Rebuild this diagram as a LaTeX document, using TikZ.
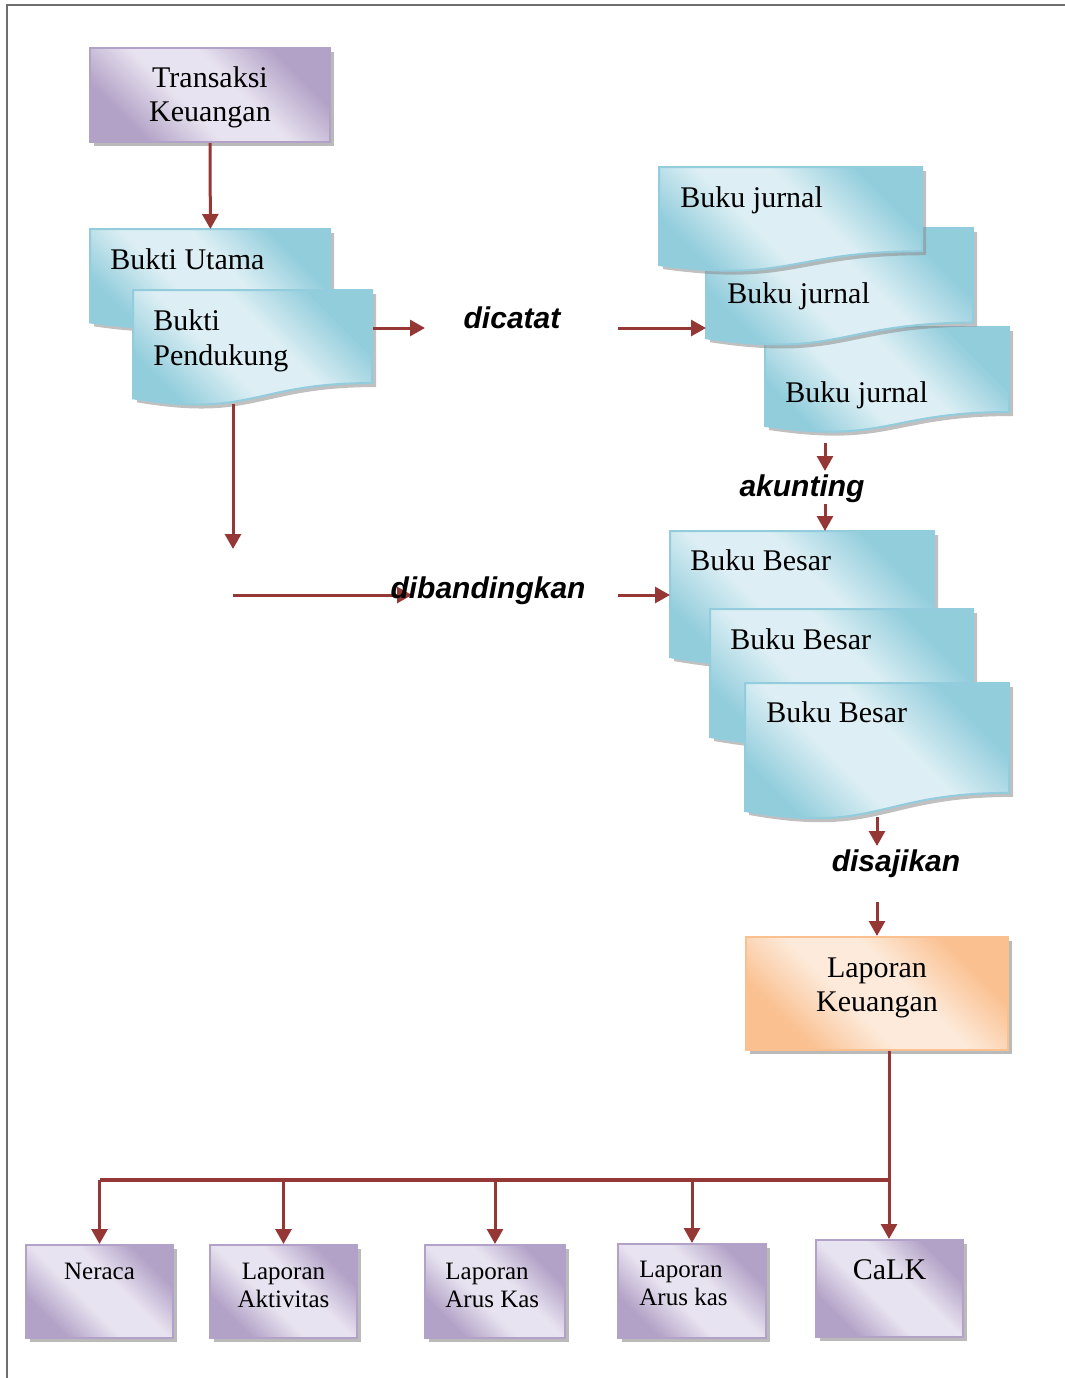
\documentclass[tikz,border=0pt]{standalone}
\usepackage{fontspec}
\setmainfont{Liberation Serif}
\setsansfont{Liberation Sans}
\usetikzlibrary{positioning,arrows.meta,shadows}

\definecolor{arrowred}{HTML}{953735}
\definecolor{pdark}{HTML}{B3A2C7}
\definecolor{plight}{HTML}{E8E3F0}
\definecolor{bdark}{HTML}{92CDDC}
\definecolor{blight}{HTML}{DDEFF4}
\definecolor{odark}{HTML}{FAC090}
\definecolor{olight}{HTML}{FDEADA}
\definecolor{bluedraw}{HTML}{93CDDD}
\definecolor{framegray}{HTML}{6E6E6E}

\pgfdeclarehorizontalshading{purpleband}{100bp}{color(0bp)=(pdark); color(27bp)=(pdark); color(43bp)=(plight); color(57bp)=(plight); color(73bp)=(pdark); color(100bp)=(pdark)}
\pgfdeclarehorizontalshading{blueband}{100bp}{color(0bp)=(bdark); color(27bp)=(bdark); color(43bp)=(blight); color(57bp)=(blight); color(73bp)=(bdark); color(100bp)=(bdark)}
\pgfdeclarehorizontalshading{orangeband}{100bp}{color(0bp)=(odark); color(27bp)=(odark); color(43bp)=(olight); color(57bp)=(olight); color(73bp)=(odark); color(100bp)=(odark)}

% document shape: x, y, width, height
\newcommand\docpath[4]{(#1,#2) -- (#1+#3,#2) -- (#1+#3,#2+0.802*#4)
  .. controls (#1+0.5*#3,#2+0.802*#4) and (#1+0.5*#3,#2+1.107*#4) .. (#1,#2+0.934*#4) -- cycle}
% name, x, y, width, height
\newcommand\dokumen[5]{%
  \fill[black!45, opacity=.55] \docpath{#2+4}{#3+4}{#4}{#5};
  \path[shade, shading=blueband, shading angle=45] \docpath{#2}{#3}{#4}{#5};
  \draw[bluedraw, line width=1pt] \docpath{#2}{#3}{#4}{#5};
  \node[inner sep=0, minimum width=#4*0.5pt, minimum height=#5*0.401pt, anchor=north west] (#1) at (#2,#3) {};
}

\begin{document}
\begin{tikzpicture}[
        x=0.5pt, y=-0.5pt,
        flow/.style={draw=arrowred, line width=1.5pt, -{Triangle[width=8pt,length=7.5pt]}},
        trunk/.style={draw=arrowred, line width=1.6pt},
        boxtext/.style={font=\fontsize{15}{17}\selectfont, align=center},
        doctext/.style={font=\fontsize{15}{17.5}\selectfont, align=left, inner sep=0},
        smalltext/.style={font=\fontsize{12.5}{14}\selectfont, inner sep=0},
        verbtext/.style={font=\sffamily\bfseries\itshape\fontsize{15}{18}\selectfont, inner sep=0},
        purplebox/.style={rectangle, draw=pdark, line width=1pt, shade, shading=purpleband, shading angle=45,
          drop shadow={shadow xshift=2pt, shadow yshift=-2pt, fill=black!45, opacity=.6}},
        orangebox/.style={rectangle, draw=odark, line width=1pt, shade, shading=orangeband, shading angle=45,
          drop shadow={shadow xshift=2pt, shadow yshift=-2pt, fill=black!45, opacity=.6}}
      ]
      \useasboundingbox (0,0) rectangle (1065,1378);
      \draw[framegray, line width=0.8pt] (1065,5) -- (7,5) -- (7,1378);

      % top left
      \node[purplebox, minimum width=120pt, minimum height=47pt] (tk) at (210,95) {};
      \node[boxtext, inner sep=0] (tk-t) at (210,97) {Transaksi\\Keuangan};
      \dokumen{bu}{90}{229}{240}{100}
      \node[doctext, anchor=west] (bu-t) at (110,259) {Bukti Utama};
      \dokumen{bp}{133}{290}{239}{116}
      \node[doctext, anchor=west] (bp-t) at (153,341) {Bukti\\Pendukung};
      \draw[flow] (tk.south) -- (bu.north);

      % jurnal
      \dokumen{bj3}{765}{327}{244}{106}
      \node[doctext, anchor=west] (bj3-t) at (785,395) {Buku jurnal};
      \dokumen{bj2}{706}{228}{267}{118}
      \node[doctext, anchor=west] (bj2-t) at (727,296) {Buku jurnal};
      \dokumen{bj1}{659}{167}{263}{105}
      \node[doctext, anchor=west] (bj1-t) at (680,200) {Buku jurnal};

      \coordinate (c1) at (425,328);
      \coordinate (c2) at (618,328);
      \draw[flow] (bp.east |- c1) -- (c1);
      \node[verbtext] (dicatat) at (512,318) {dicatat};
      \draw[flow] (c2) -- (c2 -| bj2.west);

      % buku besar
      \dokumen{bb1}{670}{531}{264}{135}
      \node[doctext, anchor=west] (bb1-t) at (690,560) {Buku Besar};
      \dokumen{bb2}{710}{609}{263}{137}
      \node[doctext, anchor=west] (bb2-t) at (730,639) {Buku Besar};
      \dokumen{bb3}{745}{683}{264}{137}
      \node[doctext, anchor=west] (bb3-t) at (766,712) {Buku Besar};

      \coordinate (a1) at (825,443);
      \coordinate (a2) at (825,471);
      \coordinate (a3) at (825,504);
      \draw[flow] (a1) -- (a2);
      \node[verbtext] (akunting) at (802,489) {akunting};
      \draw[flow] (a3) -- (a3 |- bb1.north);

      % dibandingkan
      \coordinate (c3) at (233,404);
      \coordinate (c4) at (233,549);
      \coordinate (c5) at (233,595);
      \coordinate (c6) at (412,595);
      \coordinate (c7) at (618,595);
      \draw[flow] (c3) -- (c4);
      \draw[flow] (c5) -- (c6);
      \node[verbtext] (banding) at (488,591) {dibandingkan};
      \draw[flow] (c7) -- (c7 -| bb1.west);

      % laporan keuangan
      \node[orangebox, minimum width=131pt, minimum height=56.5pt] (lk) at (877,993.5) {};
      \node[boxtext, inner sep=0] (lk-t) at (877,988) {Laporan\\Keuangan};
      \coordinate (d1) at (877,817);
      \coordinate (d2) at (877,846);
      \coordinate (d3) at (877,902);
      \draw[flow] (d1) -- (d2);
      \node[verbtext] (sajikan) at (896,864) {disajikan};
      \draw[flow] (d3) -- (lk.north);

      % laporan-laporan
      \node[purplebox, minimum width=73.5pt, minimum height=46.5pt] (neraca) at (99.5,1291.5) {};
      \node[purplebox, minimum width=73.5pt, minimum height=46.5pt] (aktivitas) at (283.5,1291.5) {};
      \node[purplebox, minimum width=70pt, minimum height=46.5pt] (aruskas) at (495,1291.5) {};
      \node[purplebox, minimum width=74pt, minimum height=47pt] (aruskas2) at (692,1291) {};
      \node[purplebox, minimum width=73.5pt, minimum height=48.5pt] (calk) at (889.5,1288.5) {};

      \node[smalltext, below=9.5pt of neraca.north] (neraca-t) {Neraca};
      \node[smalltext, align=center, below=9.5pt of aktivitas.north] (aktivitas-t) {Laporan\\Aktivitas};
      \node[smalltext, align=left, anchor=north west] (aruskas-t) at (445,1263) {Laporan\\Arus Kas};
      \node[smalltext, align=left, anchor=north west] (aruskas2-t) at (639,1261) {Laporan\\Arus kas};
      \node[smalltext, font=\fontsize{15}{17}\selectfont, below=10pt of calk.north] (calk-t) {CaLK};

      \coordinate (split) at (889,1180);
      \draw[flow] (split |- lk.south) -- (split |- calk.north);
      \draw[trunk] (split) -- (split -| neraca.north);
      \foreach \n in {neraca,aktivitas,aruskas,aruskas2}
        \draw[flow] (split -| \n.north) -- (\n.north);
      \end{tikzpicture}
\end{document}
